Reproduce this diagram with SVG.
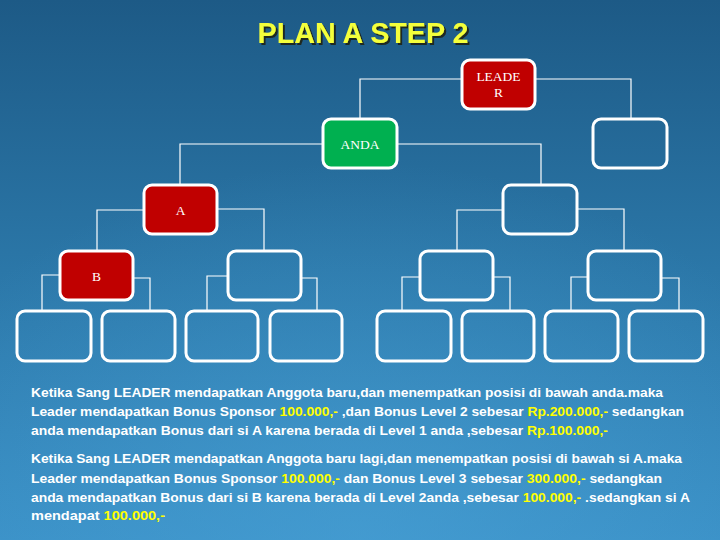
<svg xmlns="http://www.w3.org/2000/svg" width="720" height="540" viewBox="0 0 720 540">
  <defs>
    <linearGradient id="bg" x1="0" y1="0" x2="0" y2="1">
      <stop offset="0" stop-color="#1d5a86"/>
      <stop offset="0.5" stop-color="#2b77a8"/>
      <stop offset="1" stop-color="#3a90c6"/>
    </linearGradient>
    <radialGradient id="glow" cx="0.5" cy="1" r="0.7">
      <stop offset="0" stop-color="#4aa3d8" stop-opacity="0.55"/>
      <stop offset="1" stop-color="#4aa3d8" stop-opacity="0"/>
    </radialGradient>
    <filter id="shadow" x="-10%" y="-30%" width="120%" height="160%">
      <feDropShadow dx="2" dy="2" stdDeviation="0.6" flood-color="#1a1a0a" flood-opacity="0.85"/>
    </filter>
    <style>
      .box { stroke: #ffffff; stroke-width: 3; fill: none; }
      .red { fill: #c00000; }
      .green { fill: #00b050; }
      .conn { stroke: #ffffff; stroke-width: 1.2; fill: none; }
      .lbl { font-family: "Liberation Serif", "Times New Roman", serif; font-size: 13.5px; fill: #ffffff; text-anchor: middle; }
      .title { font-family: "Liberation Sans", Arial, sans-serif; font-weight: bold; font-size: 30px; text-anchor: middle; fill: #f4ff3a; }
      .body { font-family: "Liberation Sans", Arial, sans-serif; font-weight: bold; font-size: 13px; fill: #ffffff; }
      .y { fill: #ffff00; }
    </style>
  </defs>

  <rect width="720" height="540" fill="url(#bg)"/>
  <rect width="720" height="540" fill="url(#glow)"/>

  <g id="title">
    <text class="title" x="363" y="43" filter="url(#shadow)" textLength="211" lengthAdjust="spacingAndGlyphs">PLAN A STEP 2</text>
  </g>

  <g id="connectors">
    <path class="conn" d="M462,79 H360 V119 M535,79 H631 V119"/>
    <path class="conn" d="M323,144 H180 V185 M397,144 H541 V185"/>
    <path class="conn" d="M144,210 H97 V251 M217,209 H264 V251"/>
    <path class="conn" d="M503,210 H457 V251 M577,209 H624 V251"/>
    <path class="conn" d="M60,275 H42 V311 M133,278 H150 V311"/>
    <path class="conn" d="M228,276 H207 V311 M301,278 H317 V311"/>
    <path class="conn" d="M420,277 H402 V311 M493,277 H510 V311"/>
    <path class="conn" d="M588,277 H571 V311 M661,278 H679 V311"/>
  </g>

  <g id="leader">
    <rect class="box red" x="462" y="60" width="73" height="49" rx="8"/>
    <text class="lbl" x="498.5" y="81">LEADE</text>
    <text class="lbl" x="498.5" y="97">R</text>
  </g>
  <g id="anda">
    <rect class="box green" x="323" y="119" width="74" height="49" rx="8"/>
    <text class="lbl" x="360" y="149">ANDA</text>
  </g>
  <g id="leader-right">
    <rect class="box" x="593" y="119" width="74" height="49" rx="8"/>
  </g>
  <g id="a">
    <rect class="box red" x="144" y="185" width="73" height="49" rx="8"/>
    <text class="lbl" x="180.5" y="215">A</text>
  </g>
  <g id="anda-right">
    <rect class="box" x="503" y="185" width="74" height="49" rx="8"/>
  </g>
  <g id="b">
    <rect class="box red" x="60" y="251" width="73" height="49" rx="8"/>
    <text class="lbl" x="96.5" y="281">B</text>
  </g>
  <g id="l3-2">
    <rect class="box" x="228" y="251" width="73" height="49" rx="8"/>
  </g>
  <g id="l3-3">
    <rect class="box" x="420" y="251" width="73" height="49" rx="8"/>
  </g>
  <g id="l3-4">
    <rect class="box" x="588" y="251" width="73" height="49" rx="8"/>
  </g>
  <g id="leaf-1"><rect class="box" x="17" y="311" width="74" height="50" rx="8"/></g>
  <g id="leaf-2"><rect class="box" x="102" y="311" width="73" height="50" rx="8"/></g>
  <g id="leaf-3"><rect class="box" x="186" y="311" width="72" height="50" rx="8"/></g>
  <g id="leaf-4"><rect class="box" x="270" y="311" width="72" height="50" rx="8"/></g>
  <g id="leaf-5"><rect class="box" x="377" y="311" width="74" height="50" rx="8"/></g>
  <g id="leaf-6"><rect class="box" x="462" y="311" width="72" height="50" rx="8"/></g>
  <g id="leaf-7"><rect class="box" x="545" y="311" width="73" height="50" rx="8"/></g>
  <g id="leaf-8"><rect class="box" x="629" y="311" width="74" height="50" rx="8"/></g>

  <g id="description" xml:space="preserve">
    <text class="body" x="31" y="397" textLength="632" lengthAdjust="spacingAndGlyphs">Ketika Sang LEADER mendapatkan Anggota baru,dan menempatkan posisi di bawah anda.maka</text>
    <text class="body" x="31" y="416" textLength="653" lengthAdjust="spacingAndGlyphs">Leader mendapatkan Bonus Sponsor <tspan class="y">100.000,-</tspan> ,dan Bonus Level 2 sebesar <tspan class="y">Rp.200.000,-</tspan> sedangkan</text>
    <text class="body" x="31" y="435" textLength="577" lengthAdjust="spacingAndGlyphs">anda mendapatkan Bonus dari si A karena berada di Level 1 anda ,sebesar <tspan class="y">Rp.100.000,-</tspan></text>
    <text class="body" x="31" y="463" textLength="651" lengthAdjust="spacingAndGlyphs">Ketika Sang LEADER mendapatkan Anggota baru lagi,dan menempatkan posisi di bawah si A.maka</text>
    <text class="body" x="31" y="483" textLength="631" lengthAdjust="spacingAndGlyphs">Leader mendapatkan Bonus Sponsor <tspan class="y">100.000,-</tspan> dan Bonus Level 3 sebesar <tspan class="y">300.000,-</tspan>  sedangkan</text>
    <text class="body" x="31" y="502" textLength="659" lengthAdjust="spacingAndGlyphs">anda mendapatkan Bonus dari si B karena berada di Level 2anda ,sebesar <tspan class="y">100.000,-</tspan> .sedangkan si A</text>
    <text class="body" x="31" y="520" textLength="134" lengthAdjust="spacingAndGlyphs">mendapat <tspan class="y">100.000,-</tspan></text>
  </g>
</svg>
